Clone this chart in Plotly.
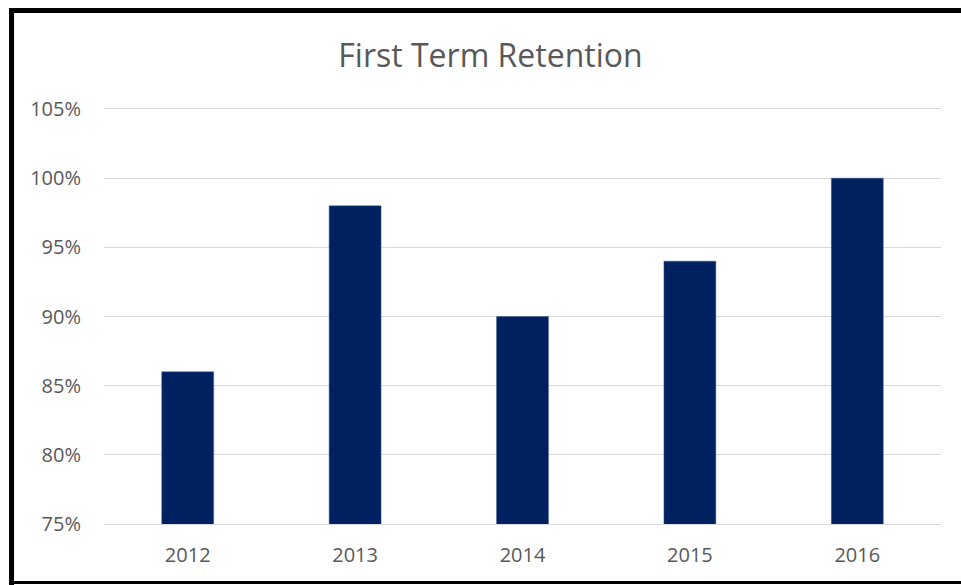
import plotly.graph_objects as go

years = ["2012", "2013", "2014", "2015", "2016"]
retention = [86, 98, 90, 94, 100]
tick_vals = [75, 80, 85, 90, 95, 100, 105]
tick_text = ["75%", "80%", "85%", "90%", "95%", "100%", "105%"]

W, H = 961, 585
L, R, T, B = 104, 19.5, 109, 61
pw, ph = W - L - R, H - T - B

def px(x):
    return (x - L) / pw

def py(y):
    return (H - B - y) / ph

fig = go.Figure(go.Bar(
    x=years, y=retention,
    marker=dict(color="#002060", line=dict(color="#3a5a8c", width=0.5)),
    width=0.31,
))

font = "'Open Sans', sans-serif"
fig.update_layout(
    width=W, height=H,
    margin=dict(l=L, r=R, t=T, b=B),
    paper_bgcolor="white", plot_bgcolor="white",
    title=dict(text="First Term Retention", x=(338 + 643) / 2 / W, xanchor="center",
               y=1 - 56 / H, yanchor="middle",
               font=dict(family=font, size=32, color="#595959")),
    font=dict(family=font, color="#595959"),
    showlegend=False,
    xaxis=dict(showgrid=False, showline=True, mirror=True, linecolor="#d9d9d9",
               linewidth=1.3, ticks="",
               tickfont=dict(size=20, color="#595959"), ticklabelstandoff=13),
    yaxis=dict(range=[75, 105], tickvals=tick_vals, ticktext=tick_text,
               showgrid=True, gridcolor="#d9d9d9", gridwidth=1.3,
               zeroline=False, showline=False, ticks="",
               tickfont=dict(size=20, color="#595959"), ticklabelstandoff=22),
    shapes=[
        dict(type="line", xref="paper", yref="paper", x0=px(11.5), x1=px(11.5),
             y0=py(8), y1=py(585), line=dict(color="black", width=5)),
        dict(type="line", xref="paper", yref="paper", x0=px(9), x1=px(965),
             y0=py(10.5), y1=py(10.5), line=dict(color="black", width=5)),
        dict(type="line", xref="paper", yref="paper", x0=px(9), x1=px(965),
             y0=py(582.5), y1=py(582.5), line=dict(color="black", width=3)),
    ],
)

fig.write_html("out.html", config={"displayModeBar": False},
               post_script="document.body.style.margin='0';document.body.style.overflow='hidden';")
